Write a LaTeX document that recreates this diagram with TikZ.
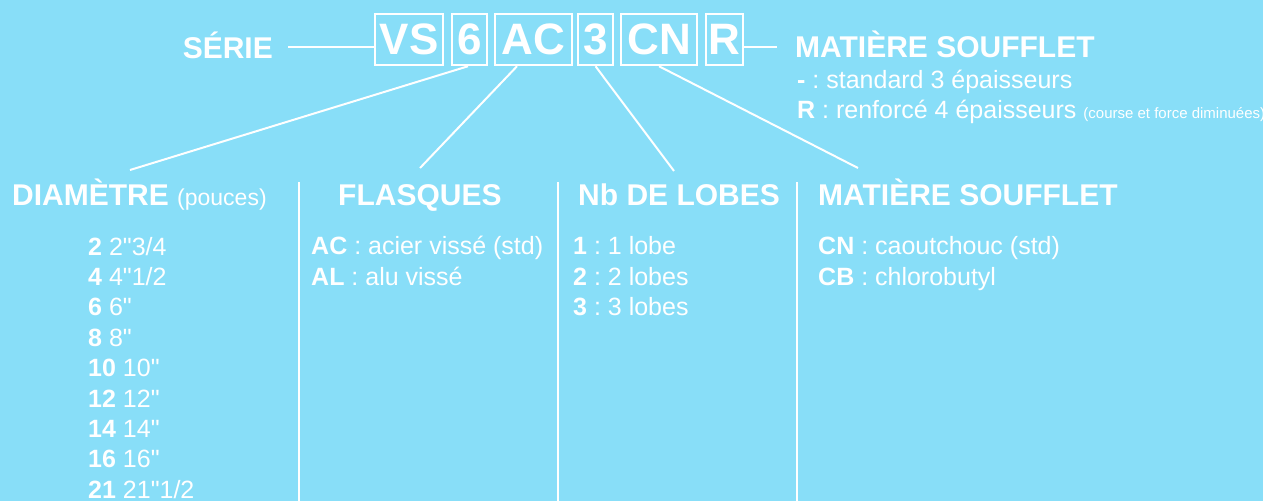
\documentclass[tikz,border=0pt]{standalone}
\usepackage{fontspec}
\setmainfont{Liberation Sans}[Ligatures=TeXOff]
\usepackage{xcolor}
\definecolor{skyblue}{RGB}{136,222,248}
\frenchspacing

\begin{document}
\begin{tikzpicture}[x=1pt,y=-1pt,
    codebox/.style={draw=white,line width=2.5pt,text=white,inner sep=0pt,
      minimum height=51pt,font=\fontsize{44}{44}\selectfont\bfseries},
    head/.style={text=white,inner sep=0pt,anchor=base west,
      font=\fontsize{30}{36}\selectfont\bfseries},
    item/.style={text=white,inner sep=0pt,anchor=base west,
      font=\fontsize{25}{30}\selectfont},
    link/.style={white,line width=2pt},
    sep/.style={white,line width=1.5pt}]

    % Draw the background
    \fill[skyblue] (0,0) rectangle (1263,501);
    \useasboundingbox (0,0) rectangle (1263,501);

    % Draw the code boxes
    \node[codebox, minimum width=68pt] (vs) at (409,39.5) {VS};
    \node[codebox, minimum width=35pt] (dia) at (469.5,39.5) {6};
    \node[codebox, minimum width=77pt] (ac) at (533.5,39.5) {AC};
    \node[codebox, minimum width=35pt] (lob) at (595.5,39.5) {3};
    \node[codebox, minimum width=76pt] (cn) at (659,39.5) {CN};
    \node[codebox, minimum width=37pt] (ren) at (724.5,39.5) {R};

    % Label the series
    \node[head, anchor=base east] (serie) at (273,58) {SÉRIE};
    \draw[link] ([shift={(15,-11)}]serie.base east) -- ([yshift=-7.5pt]vs.west);

    % Label the reinforcement
    \coordinate (renend) at (777,47);
    \draw[link] ([yshift=-7.5pt]ren.east) -- (renend);
    \node[head] (rtitle) at (795,57) {MATIÈRE SOUFFLET};
    \node[item] (rstd) at (797,88) {\textbf{-} : standard 3 épaisseurs};
    \node[item] (rfor) at (797,118) {\textbf{R} : renforcé 4 épaisseurs
      {\fontsize{15}{18}\selectfont(course et force diminuées)}};

    % Draw the links to the columns
    \coordinate (end1) at (130,170);
    \coordinate (end2) at (420,168);
    \coordinate (end3) at (674,171);
    \coordinate (end4) at (858,168);
    \draw[link] ([xshift=-1.5pt]dia.south) -- (end1);
    \draw[link] ([xshift=-16.5pt]ac.south) -- (end2);
    \draw[link] (lob.south) -- (end3);
    \draw[link] (cn.south) -- (end4);

    % Draw the column separators
    \draw[sep] (299,182) -- (299,501);
    \draw[sep] (558,182) -- (558,501);
    \draw[sep] (797,182) -- (797,501);

    % Column heads
    \node[head] (hdia) at (12,205) {DIAMÈTRE {\fontsize{23}{28}\selectfont\mdseries (pouces)}};
    \node[head] (hfla) at (338,205) {FLASQUES};
    \node[head] (hlob) at (578,205) {Nb DE LOBES};
    \node[head] (hmat) at (818,205) {MATIÈRE SOUFFLET};

    % Diameters
    \foreach \n/\d [count=\i from 0] in {2/{2"3/4},4/{4"1/2},6/{6"},8/{8"},
        10/{10"},12/{12"},14/{14"},16/{16"},21/{21"1/2}}
      \node[item] (diam\n) at (88,255+30.4*\i) {\textbf{\n} \d};

    % Flanges
    \node[item] (fac) at (311,254) {\textbf{AC} : acier vissé (std)};
    \node[item] (fal) at (311,285) {\textbf{AL} : alu vissé};

    % Lobes
    \node[item] (lob1) at (573,254) {\textbf{1} : 1 lobe};
    \node[item] (lob2) at (573,285) {\textbf{2} : 2 lobes};
    \node[item] (lob3) at (573,315.5) {\textbf{3} : 3 lobes};

    % Materials
    \node[item] (mcn) at (818,254) {\textbf{CN} : caoutchouc (std)};
    \node[item] (mcb) at (818,285) {\textbf{CB} : chlorobutyl};
\end{tikzpicture}
\end{document}
